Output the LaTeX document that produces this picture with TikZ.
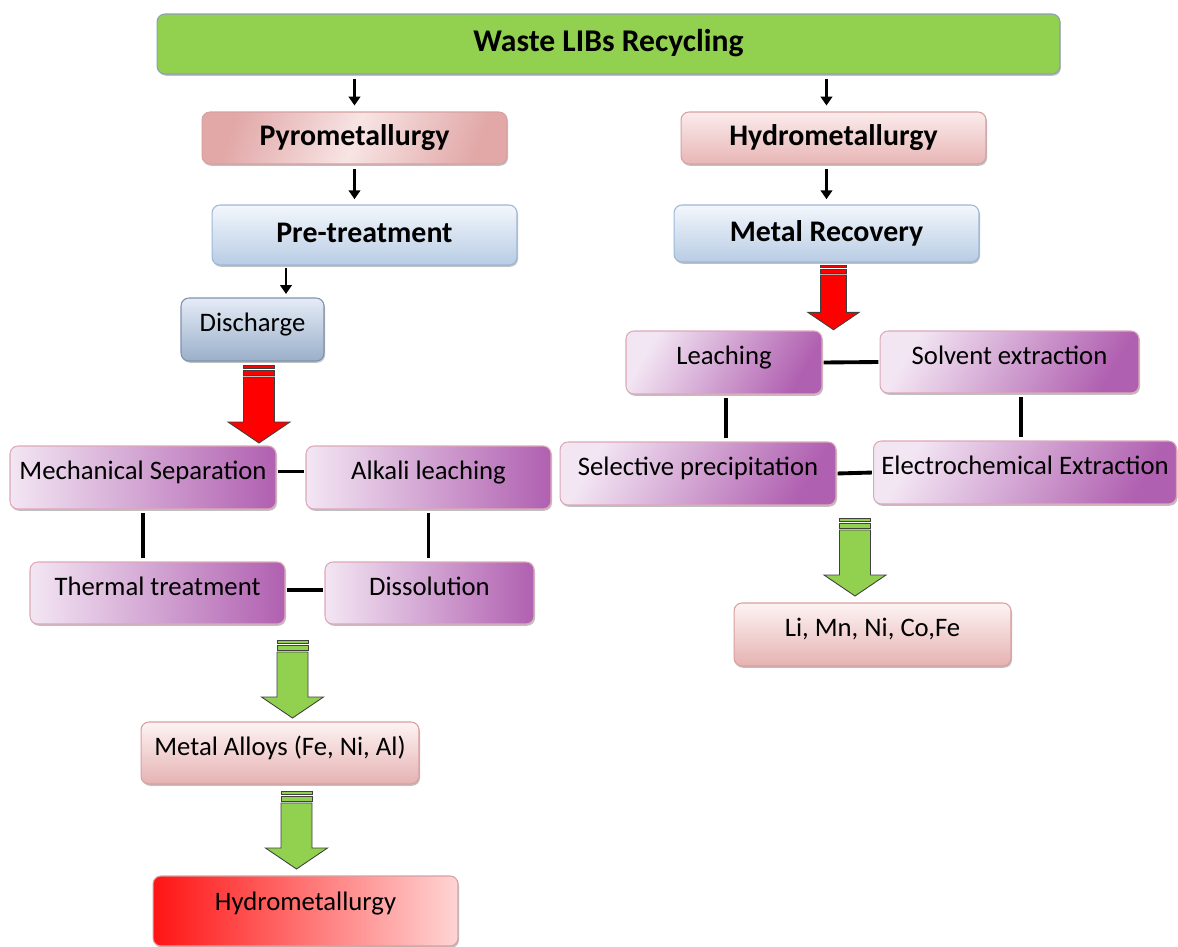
\documentclass[tikz,border=0pt]{standalone}
\usepackage{fontspec}
\setmainfont{Carlito}
\usetikzlibrary{arrows.meta,shadows}

\definecolor{topgreen}{HTML}{92D050}
\definecolor{topedge}{HTML}{8C9CB8}
\definecolor{pyroA}{HTML}{E2A8A8}
\definecolor{pyroB}{HTML}{F8E4E4}
\definecolor{pyroedge}{HTML}{D8A0A0}
\definecolor{hydA}{HTML}{FBEBEB}
\definecolor{hydB}{HTML}{E8B6B6}
\definecolor{bluA}{HTML}{F3F7FC}
\definecolor{bluB}{HTML}{B8CCE4}
\definecolor{bluedge}{HTML}{9DB7D8}
\definecolor{disA}{HTML}{E4ECF6}
\definecolor{disB}{HTML}{9AAFCA}
\definecolor{purA}{HTML}{F3E6F3}
\definecolor{purB}{HTML}{B060B0}
\definecolor{puredge}{HTML}{DDA8B8}
\definecolor{pinkA}{HTML}{FDF3F3}
\definecolor{pinkB}{HTML}{E6B2B2}
\definecolor{redA}{HTML}{FF1414}
\definecolor{redB}{HTML}{FFD4D4}
\definecolor{arrred}{HTML}{FF0000}
\definecolor{arrgreen}{HTML}{92D050}

% block arrow: fill, x, y (top of stripes), scale
\newcommand{\fatarrow}[4]{%
\begin{scope}[shift={(#2,#3)}, scale=#4]
\draw[fill=#1, draw=black!75, line width=0.5pt] (-15.5,0) rectangle (15.5,3);
\draw[fill=#1, draw=black!75, line width=0.5pt] (-15.5,5) rectangle (15.5,10);
\draw[fill=#1, draw=black!75, line width=0.5pt] (-15.5,12) -- (15.5,12) -- (15.5,57)
  -- (31,57) -- (0,78) -- (-31,57) -- (-15.5,57) -- cycle;
\end{scope}}

\begin{document}
\begin{tikzpicture}[x=0.02cm, y=-0.02cm,
  box/.style={rounded corners=4.5pt, line width=0.6pt, inner sep=2pt,
    text height=0.45cm, text depth=0.37cm,
    drop shadow={shadow xshift=0.6pt, shadow yshift=-1pt, fill=black, opacity=0.25},
    font=\fontsize{15.2}{17}\selectfont},
  headbox/.style={box, text height=0.45cm, text depth=0.15cm,
    font=\fontsize{17}{19}\selectfont\bfseries},
  topbox/.style={headbox, fill=topgreen, draw=topedge, font=\fontsize{18}{20}\selectfont\bfseries},
  pyrobox/.style={headbox, draw=pyroedge, left color=pyroA, right color=pyroA, middle color=pyroB, shading angle=70},
  hydbox/.style={headbox, draw=pyroedge, top color=hydA, bottom color=hydB},
  bluebox/.style={headbox, draw=bluedge, top color=bluA, bottom color=bluB},
  disbox/.style={box, draw=bluedge!80!black, top color=disA, bottom color=disB},
  purbox/.style={box, draw=puredge, left color=purA, right color=purB},
  purdiag/.style={purbox, shading angle=60},
  pinkbox/.style={box, draw=pyroedge, top color=pinkA, bottom color=pinkB},
  redbox/.style={box, draw=pyroedge, left color=redA, right color=redB},
  arr/.style={line width=1.3pt, -{Triangle[length=5pt,width=6.5pt]}},
  link/.style={line width=2.2pt, shorten <=2pt, shorten >=2pt},
  hlink/.style={line width=2.2pt, shorten <=0.6pt, shorten >=0.6pt}]
\useasboundingbox (0,0) rectangle (1178,947);

% top
\node[topbox, minimum width=18.06cm, minimum height=1.2cm] (waste) at (608.5,44) {Waste LIBs Recycling};
\node[pyrobox, minimum width=6.1cm, minimum height=1.04cm] (pyro) at (354.5,138) {Pyrometallurgy};
\node[hydbox, minimum width=6.1cm, minimum height=1.04cm] (hydro) at (833.5,138) {Hydrometallurgy};
\node[bluebox, minimum width=6.1cm, minimum height=1.2cm] (pretreat) at (364.5,235) {Pre-treatment};
\node[bluebox, minimum width=6.1cm, minimum height=1.14cm] (recovery) at (826.5,233.5) {Metal Recovery};
\node[disbox, minimum width=2.86cm, minimum height=1.26cm] (discharge) at (252.5,329.5) {Discharge};

% pyrometallurgy branch
\node[purbox, minimum width=5.32cm, minimum height=1.26cm] (mech) at (143,477.5) {Mechanical Separation};
\node[purbox, minimum width=4.9cm, minimum height=1.26cm] (alkali) at (428.5,477.5) {Alkali leaching};
\node[purbox, minimum width=5.1cm, minimum height=1.24cm] (thermal) at (157.5,593) {Thermal treatment};
\node[purbox, minimum width=4.18cm, minimum height=1.24cm] (dissol) at (429.5,593) {Dissolution};
\node[pinkbox, minimum width=5.56cm, minimum height=1.24cm] (alloys) at (280,753) {Metal Alloys (Fe, Ni, Al)};
\node[redbox, minimum width=6.1cm, minimum height=1.4cm] (hydro2) at (305.5,911) {\raisebox{0.06cm}{Hydrometallurgy}};

% hydrometallurgy branch
\node[purdiag, minimum width=3.92cm, minimum height=1.26cm] (leach) at (724,362.5) {Leaching};
\node[purdiag, minimum width=5.18cm, minimum height=1.24cm] (solvent) at (1009.5,362) {Solvent extraction};
\node[purdiag, minimum width=5.52cm, minimum height=1.26cm] (selprec) at (698,473.5) {Selective precipitation};
\node[purdiag, minimum width=6.06cm, minimum height=1.26cm] (electro) at (1025,472.5) {Electrochemical Extraction};
\node[pinkbox, minimum width=5.54cm, minimum height=1.26cm] (metals) at (872.5,634.5) {Li, Mn, Ni, Co,Fe};

% arrows
\draw[arr, shorten <=2.3pt, shorten >=3.4pt] (waste.south -| pyro.north) -- (pyro.north);
\draw[arr, shorten <=2.3pt, shorten >=3.4pt] (waste.south -| recovery.north) -- (hydro.north -| recovery.north);
\draw[arr, shorten <=2.3pt, shorten >=3pt] (pyro.south) -- (pyro.south |- pretreat.north);
\draw[arr, shorten <=2.3pt, shorten >=3pt] (hydro.south -| recovery.north) -- (recovery.north);
\draw[arr, shorten <=1.5pt, shorten >=2pt] ([xshift=0.67cm]discharge.north |- pretreat.south) -- ([xshift=0.67cm]discharge.north);

% links
\draw[hlink] ([yshift=0.12cm]mech.east) -- ([yshift=0.12cm]alkali.west);
\draw[link] (mech.south) -- (mech.south |- thermal.north);
\draw[link] (alkali.south) -- (alkali.south |- dissol.north);
\draw[hlink] ([yshift=0.06cm]thermal.east) -- ([yshift=0.06cm]dissol.west);
\draw[hlink] (leach.east) -- (solvent.west);
\draw[link] ([xshift=0.04cm]leach.south) -- ([xshift=0.04cm]leach.south |- selprec.north);
\draw[link] ([xshift=0.23cm]solvent.south) -- ([xshift=0.23cm]solvent.south |- electro.north);
\draw[hlink] (selprec.east) -- (electro.west);

% block arrows
\fatarrow{arrred}{259}{365}{1}
\fatarrow{arrred}{833.5}{265}{0.83}
\fatarrow{arrgreen}{292.5}{640}{1}
\fatarrow{arrgreen}{296.5}{791}{1}
\fatarrow{arrgreen}{855}{518}{1}
\end{tikzpicture}
\end{document}
